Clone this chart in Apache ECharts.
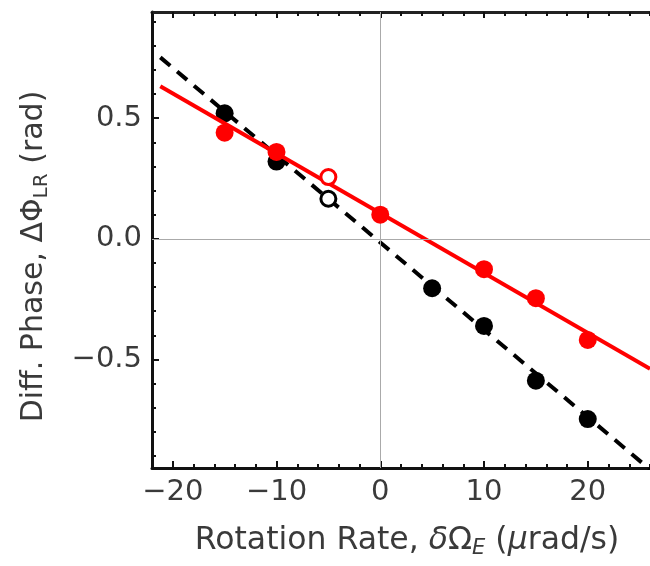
<!DOCTYPE html>
<html><head><meta charset="utf-8">
<script src="https://cdn.jsdelivr.net/npm/echarts@6/dist/echarts.min.js"></script>
<style>html,body{margin:0;padding:0;background:#fff}#c{width:650px;height:566px}</style>
</head><body><div id="c"></div>
<script>
// ---- data ----
const xMajorTicks = [-20, -10, 0, 10, 20];
const xMinorTicks = [-22, -18, -16, -14, -12, -8, -6, -4, -2, 2, 4, 6, 8, 12, 14, 16, 18, 22, 24, 26];
const yMajorTicks = [-0.5, 0, 0.5];
const yMinorTicks = [-0.9, -0.8, -0.7, -0.6, -0.4, -0.3, -0.2, -0.1, 0.1, 0.2, 0.3, 0.4, 0.6, 0.7, 0.8, 0.9];

const rateBlack = [-15, -10, 5, 10, 15, 20];
const phaseBlack = [0.52, 0.32, -0.205, -0.361, -0.588, -0.747];
const rateRed = [-15, -10, 0, 10, 15, 20];
const phaseRed = [0.44, 0.36, 0.10, -0.126, -0.246, -0.419];
const rateOpen = [-5];
const phaseOpenBlack = [0.166];
const phaseOpenRed = [0.256];

const fitRate = [-21.2, 26];
const fitBlack = [0.752, -0.956];
const fitRed = [0.632, -0.539];

const zip = (a, b) => a.map((v, i) => [v, b[i]]);
const FONT = "'DejaVu Sans', sans-serif";
const TXT = '#3a3a3a';
const minusFmt = d => v => (v < 0 ? '\u2212' : '') + Math.abs(v).toFixed(d);

const chart = echarts.init(document.getElementById('c'), null, {renderer: 'canvas'});
const xBase = {gridIndex: 0, type: 'value', min: -22, max: 26, splitLine: {show: false}};
const yBase = {gridIndex: 0, type: 'value', min: -0.95, max: 0.94, splitLine: {show: false}};
const lineStyleAxis = {color: '#111', width: 3};

chart.setOption({
  animation: false,
  grid: {left: 152, right: 0, top: 12, bottom: 98, containLabel: false},
  xAxis: [
    Object.assign({}, xBase, {
      position: 'bottom',
      axisLine: {show: true, onZero: false, lineStyle: lineStyleAxis},
      axisTick: {show: true, inside: true, length: 7, lineStyle: {color: '#111', width: 2}, customValues: xMajorTicks},
      axisLabel: {show: true, customValues: xMajorTicks, formatter: minusFmt(0), fontFamily: FONT, fontSize: 29, color: TXT, margin: 10},
      name: '{n|Rotation Rate, }{i|\u03b4}{n|\u03a9}{sub|E}{n| (}{i|\u03bc}{n|rad/s)}',
      nameLocation: 'middle', nameGap: 55,
      nameTextStyle: {fontFamily: FONT, color: TXT, padding: [0, 0, 0, 12], rich: {
        n: {fontFamily: FONT, fontSize: 31.5, color: TXT, lineHeight: 36},
        i: {fontFamily: FONT, fontSize: 31.5, color: TXT, lineHeight: 36, fontStyle: 'italic'},
        sub: {fontFamily: FONT, fontSize: 21, color: TXT, lineHeight: 21, fontStyle: 'italic', verticalAlign: 'bottom'}
      }}
    }),
    Object.assign({}, xBase, {
      position: 'bottom', axisLine: {show: false, onZero: false},
      axisTick: {show: true, inside: true, length: 4, lineStyle: {color: '#111', width: 2}, customValues: xMinorTicks},
      axisLabel: {show: false}
    }),
    Object.assign({}, xBase, {
      position: 'top',
      axisLine: {show: true, onZero: false, lineStyle: {color: '#222', width: 3}},
      axisTick: {show: true, inside: true, length: 6, lineStyle: {color: '#111', width: 2}, customValues: xMajorTicks},
      axisLabel: {show: false}
    }),
    Object.assign({}, xBase, {
      position: 'top', axisLine: {show: false, onZero: false},
      axisTick: {show: true, inside: true, length: 4, lineStyle: {color: '#111', width: 2}, customValues: xMinorTicks},
      axisLabel: {show: false}
    })
  ],
  yAxis: [
    Object.assign({}, yBase, {
      position: 'left',
      axisLine: {show: true, onZero: false, lineStyle: lineStyleAxis},
      axisTick: {show: true, inside: true, length: 7, lineStyle: {color: '#111', width: 2}, customValues: yMajorTicks},
      axisLabel: {show: true, customValues: yMajorTicks, formatter: minusFmt(1), fontFamily: FONT, fontSize: 29, color: TXT, margin: 10},
      name: '{n|Diff. Phase, \u0394\u03a6}{sub|LR}{n| (rad)}',
      nameLocation: 'middle', nameGap: 100, nameRotate: 90,
      nameTextStyle: {fontFamily: FONT, color: TXT, padding: [0, 33, 0, 0], rich: {
        n: {fontFamily: FONT, fontSize: 30, color: TXT, lineHeight: 36},
        sub: {fontFamily: FONT, fontSize: 20, color: TXT, lineHeight: 20, verticalAlign: 'bottom'}
      }}
    }),
    Object.assign({}, yBase, {
      position: 'left', axisLine: {show: false, onZero: false},
      axisTick: {show: true, inside: true, length: 4, lineStyle: {color: '#111', width: 2}, customValues: yMinorTicks},
      axisLabel: {show: false}
    })
  ],
  series: [
    {
      type: 'line', data: [], silent: true,
      markLine: {silent: true, symbol: 'none', label: {show: false}, animation: false,
        lineStyle: {color: '#aaa', width: 1, type: 'solid'},
        data: [{xAxis: 0}, {yAxis: 0}]}
    },
    {type: 'line', data: zip(fitRate, fitBlack), symbol: 'none', clip: true,
      lineStyle: {color: '#000', width: 4, type: [13, 9], cap: 'butt'}, z: 2},
    {type: 'scatter', data: zip(rateBlack, phaseBlack), symbol: 'circle', symbolSize: 18,
      itemStyle: {color: '#000', opacity: 1}, z: 3},
    {type: 'scatter', data: zip(rateOpen, phaseOpenBlack), symbol: 'circle', symbolSize: 15,
      itemStyle: {color: '#fff', borderColor: '#000', borderWidth: 3, opacity: 1}, z: 3},
    {type: 'line', data: zip(fitRate, fitRed), symbol: 'none', clip: true,
      lineStyle: {color: '#ff0000', width: 4}, z: 4},
    {type: 'scatter', data: zip(rateRed, phaseRed), symbol: 'circle', symbolSize: 18,
      itemStyle: {color: '#ff0000', opacity: 1}, z: 5},
    {type: 'scatter', data: zip(rateOpen, phaseOpenRed), symbol: 'circle', symbolSize: 15,
      itemStyle: {color: '#fff', borderColor: '#ff0000', borderWidth: 3, opacity: 1}, z: 5}
  ]
});
</script>
</body></html>
